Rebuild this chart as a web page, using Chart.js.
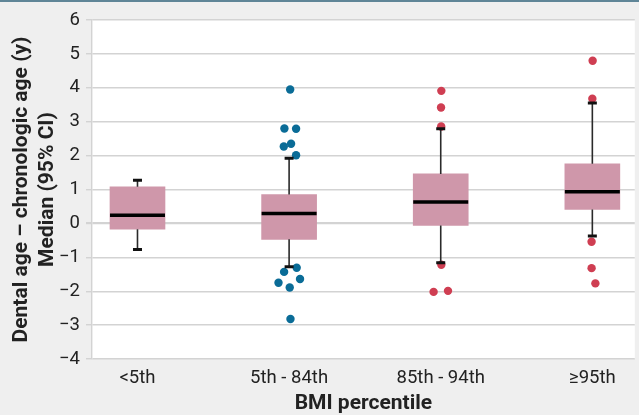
<!DOCTYPE html>
<html>
<head>
<meta charset="utf-8">
<script src="https://cdn.jsdelivr.net/npm/chart.js@4/dist/chart.umd.min.js"></script>
<style>
html,body{margin:0;padding:0;background:#efefef;}
#wrap{width:639px;height:415px;position:relative;}
</style>
</head>
<body>
<div id="wrap"><canvas id="c" width="639" height="415"></canvas></div>
<script>
// ---- data ----
const categories = ['<5th', '5th - 84th', '85th - 94th', '\u226595th'];
const categoryX = [1, 2, 3, 4];
const q1 = [-0.17, -0.47, -0.06, 0.41];
const q3 = [1.08, 0.85, 1.46, 1.76];
const medians = [0.24, 0.29, 0.63, 0.93];
const whiskerLow = [-0.77, -1.28, -1.16, -0.37];
const whiskerHigh = [1.27, 1.92, 2.79, 3.55];
// outliers, normal-weight group (blue)
const blueOutX = [2.007, 1.969, 2.046, 1.965, 2.013, 2.046, 1.967, 2.05, 1.93, 2.072, 2.004, 2.009];
const blueOutY = [3.95, 2.80, 2.79, 2.27, 2.35, 2.01, -1.43, -1.31, -1.75, -1.64, -1.89, -2.82];
// outliers, overweight & obese groups (red)
const redOutX = [3.004, 3.002, 3.003, 3.004, 2.953, 3.048, 4.002, 4.0, 3.995, 3.995, 4.02];
const redOutY = [3.91, 3.42, 2.86, -1.22, -2.02, -1.99, 4.80, 3.68, -0.54, -1.32, -1.77];
const yTicks = [-4, -3, -2, -1, 0, 1, 2, 3, 4, 5, 6];

const FONT = 'Roboto, "Noto Sans", sans-serif';

const boxData = categoryX.map((x, i) => ({x: x, y: [q1[i], q3[i]]}));
const blueData = blueOutX.map((x, i) => ({x: x, y: blueOutY[i]}));
const redData = redOutX.map((x, i) => ({x: x, y: redOutY[i]}));

const bgPlugin = {
  id: 'bg',
  beforeDraw(chart) {
    const {ctx, chartArea: a} = chart;
    ctx.save();
    ctx.fillStyle = '#efefef';
    ctx.fillRect(0, 0, chart.width, chart.height);
    ctx.fillStyle = '#ffffff';
    ctx.fillRect(a.left, a.top, a.right - a.left, a.bottom - a.top);
    ctx.fillStyle = '#5f8597';
    ctx.fillRect(0, 0, chart.width, 2);
    ctx.restore();
  }
};

const whiskerPlugin = {
  id: 'whiskers',
  afterDatasetsDraw(chart) {
    const {ctx} = chart;
    const xs = chart.scales.x, ys = chart.scales.y;
    const boxMeta = chart.getDatasetMeta(0);
    ctx.save();
    categoryX.forEach((cx, i) => {
      const px = xs.getPixelForValue(cx);
      const bar = boxMeta.data[i];
      const half = bar ? bar.width / 2 : 27;
      // whiskers
      ctx.strokeStyle = '#2a2a2a';
      ctx.lineWidth = 1.6;
      ctx.beginPath();
      ctx.moveTo(px, ys.getPixelForValue(q3[i]));
      ctx.lineTo(px, ys.getPixelForValue(whiskerHigh[i]));
      ctx.moveTo(px, ys.getPixelForValue(q1[i]));
      ctx.lineTo(px, ys.getPixelForValue(whiskerLow[i]));
      ctx.stroke();
      // caps
      ctx.strokeStyle = '#111111';
      ctx.lineWidth = 3;
      ctx.beginPath();
      [whiskerHigh[i], whiskerLow[i]].forEach(v => {
        const py = ys.getPixelForValue(v);
        ctx.moveTo(px - 4.5, py);
        ctx.lineTo(px + 4.5, py);
      });
      ctx.stroke();
      // median
      ctx.strokeStyle = '#000000';
      ctx.lineWidth = 3.5;
      ctx.beginPath();
      const my = ys.getPixelForValue(medians[i]);
      ctx.moveTo(px - half, my);
      ctx.lineTo(px + half, my);
      ctx.stroke();
    });
    ctx.restore();
  }
};

new Chart(document.getElementById('c'), {
  type: 'bar',
  data: {
    datasets: [
      {
        type: 'bar',
        data: boxData,
        backgroundColor: '#cf97aa',
        borderWidth: 0,
        barThickness: 55,
        grouped: false,
        order: 3
      },
      {
        type: 'scatter',
        data: blueData,
        backgroundColor: '#0a6c97',
        borderWidth: 0,
        pointRadius: 4.2,
        order: 1
      },
      {
        type: 'scatter',
        data: redData,
        backgroundColor: '#cf3e52',
        borderWidth: 0,
        pointRadius: 4.2,
        order: 1
      }
    ]
  },
  options: {
    responsive: false,
    animation: false,
    events: [],
    layout: {padding: {top: 20, right: 0, left: 0, bottom: 0}},
    plugins: {legend: {display: false}, tooltip: {enabled: false}},
    scales: {
      x: {
        type: 'linear',
        offset: false,
        min: 0.7,
        max: 4.28,
        afterBuildTicks(scale) { scale.ticks = categoryX.map(v => ({value: v})); },
        afterFit(scale) { scale.height = 56; },
        grid: {display: false, drawTicks: false, offset: false},
        border: {display: false},
        ticks: {
          padding: 8,
          color: '#222222',
          font: {family: FONT, size: 18.5},
          callback(v) { const i = categoryX.indexOf(v); return i >= 0 ? categories[i] : ''; }
        },
        title: {
          display: true,
          text: 'BMI percentile',
          color: '#222222',
          font: {family: FONT, size: 21, weight: 'bold', lineHeight: 1.05},
          padding: {top: 0, bottom: 0}
        }
      },
      y: {
        type: 'linear',
        min: -4,
        max: 6,
        afterBuildTicks(scale) { scale.ticks = yTicks.map(v => ({value: v})); },
        afterFit(scale) { scale.width = 92; },
        grid: {
          color: '#d3d3d3',
          lineWidth: ctx => (ctx.tick && ctx.tick.value === 0 ? 2.2 : 1.4),
          tickLength: 6,
          drawTicks: true
        },
        border: {display: true, color: '#d3d3d3', width: 1.4},
        ticks: {
          padding: 6,
          color: '#222222',
          font: {family: FONT, size: 18.5},
          callback(v) { return v < 0 ? '\u2212' + Math.abs(v) : String(v); }
        },
        title: {
          display: true,
          text: ['Dental age \u2013 chronologic age (y)', 'Median (95% CI)'],
          color: '#222222',
          font: {family: FONT, size: 21, weight: 'bold', lineHeight: 1.24},
          padding: {top: 8.5, bottom: 0}
        }
      }
    }
  },
  plugins: [bgPlugin, whiskerPlugin]
});
</script>
</body>
</html>
